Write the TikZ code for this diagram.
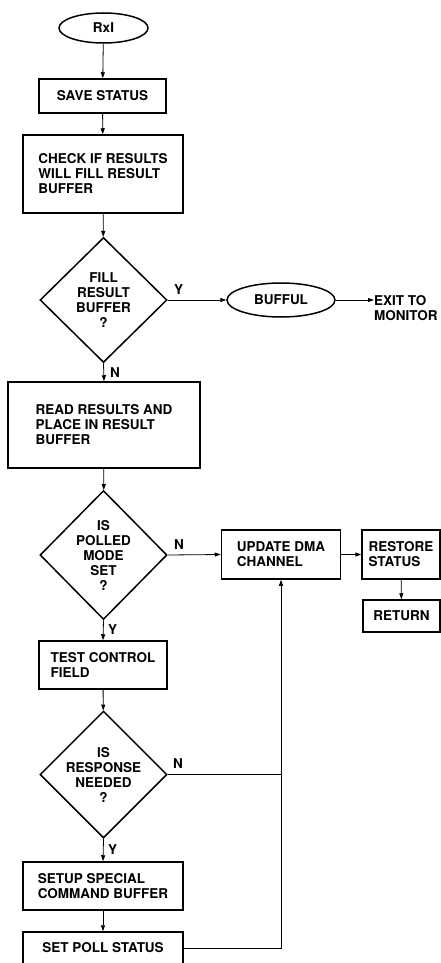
\documentclass[tikz,border=0pt]{standalone}
\usepackage{fontspec}
\setmainfont{TeX Gyre Heros}
\usetikzlibrary{arrows.meta,shapes.geometric}
\begin{document}
\begin{tikzpicture}[x=1pt,y=-1pt,
  every node/.style={font=\fontsize{13.5}{15}\selectfont\bfseries},
  box/.style={draw,line width=1.5pt,inner ysep=0pt,inner xsep=4pt,align=left},
  oval/.style={draw,ellipse,line width=1.5pt,inner sep=0pt},
  decide/.style={draw,diamond,line width=1.5pt,inner sep=0pt},
  arr/.style={line width=0.8pt,-{Triangle[length=6pt,width=4pt]}},
  link/.style={line width=0.8pt},
  tag/.style={inner sep=0pt}]
\useasboundingbox (0,0) rectangle (441,963);
\clip (0,0) rectangle (441,963);

% main column
\node[oval,minimum width=89pt,minimum height=30pt] (rxi) at (103.5,28) {RxI};
\node[box,minimum width=127pt,minimum height=34pt] (save) at (102.5,96) {SAVE STATUS};
\node[box,minimum width=160pt,minimum height=78pt] (check) at (103,174)
  {CHECK IF RESULTS\\WILL FILL RESULT\\BUFFER};
\node[decide,minimum width=127pt,minimum height=125pt,
  label={[align=center,tag]center:FILL\\RESULT\\BUFFER\\?}] (d1) at (103.5,300) {};
\node[oval,minimum width=108pt,minimum height=34pt] (bufful) at (281,300) {BUFFUL};
\node[tag,align=left,anchor=north west] (exit) at (374,295.5) {EXIT TO\\MONITOR};
\node[box,minimum width=192pt,minimum height=86pt] (read) at (104,425)
  {READ RESULTS AND\\PLACE IN RESULT\\BUFFER};
\node[decide,minimum width=127pt,minimum height=129pt,
  label={[align=center,tag]center:IS\\POLLED\\MODE\\SET\\?}] (d2) at (103.5,555) {};
\node[box,minimum width=119pt,minimum height=49pt] (update) at (281,554.5)
  {UPDATE DMA\\CHANNEL};
\node[box,minimum width=78pt,minimum height=49pt] (restore) at (401,554.5)
  {RESTORE\\STATUS};
\node[box,minimum width=77pt,minimum height=32pt] (return) at (401.5,616) {RETURN};
\node[box,minimum width=128pt,minimum height=48pt] (test) at (103,665)
  {TEST CONTROL\\FIELD};
\node[decide,minimum width=127pt,minimum height=127pt,
  label={[align=center,tag]center:IS\\RESPONSE\\NEEDED\\?}] (d3) at (103.5,774.5) {};
\node[box,minimum width=160pt,minimum height=48pt] (setup) at (103,886)
  {SETUP SPECIAL\\COMMAND BUFFER};
\node[box,minimum width=160pt,minimum height=32pt] (setpoll) at (103,948) {SET POLL STATUS};

% branch labels
\node[tag,anchor=south west] (y1) at (174,295) {Y};
\node[tag,anchor=west] (n1) at (110,373) {N};
\node[tag,anchor=south west] (n2) at (174,550) {N};
\node[tag,anchor=west] (y2) at (108,630) {Y};
\node[tag,anchor=south west] (n3) at (173,769) {N};
\node[tag,anchor=west] (y3) at (108,850) {Y};

% connectors
\draw[arr] (rxi) -- (save);
\draw[arr] (save) -- (check);
\draw[arr] (check) -- (d1);
\draw[arr] (d1.east) -- (bufful.west);
\draw[arr] (bufful.east) -- (bufful.east -| exit.west);
\draw[arr] (d1.south) -- (read.north);
\draw[arr] (read) -- (d2);
\draw[arr] (d2.east) -- (update.west);
\draw[arr] (update) -- (restore);
\draw[arr] (restore) -- (return);
\draw[arr] (d2.south) -- (test.north);
\draw[arr] (test) -- (d3);
\draw[link] (d3.east) -- (d3.east -| update.south);
\draw[arr] (d3.south) -- (setup.north);
\draw[arr] (setup) -- (setpoll);
\draw[arr] (setpoll.east) -| (update.south);
\end{tikzpicture}
\end{document}
